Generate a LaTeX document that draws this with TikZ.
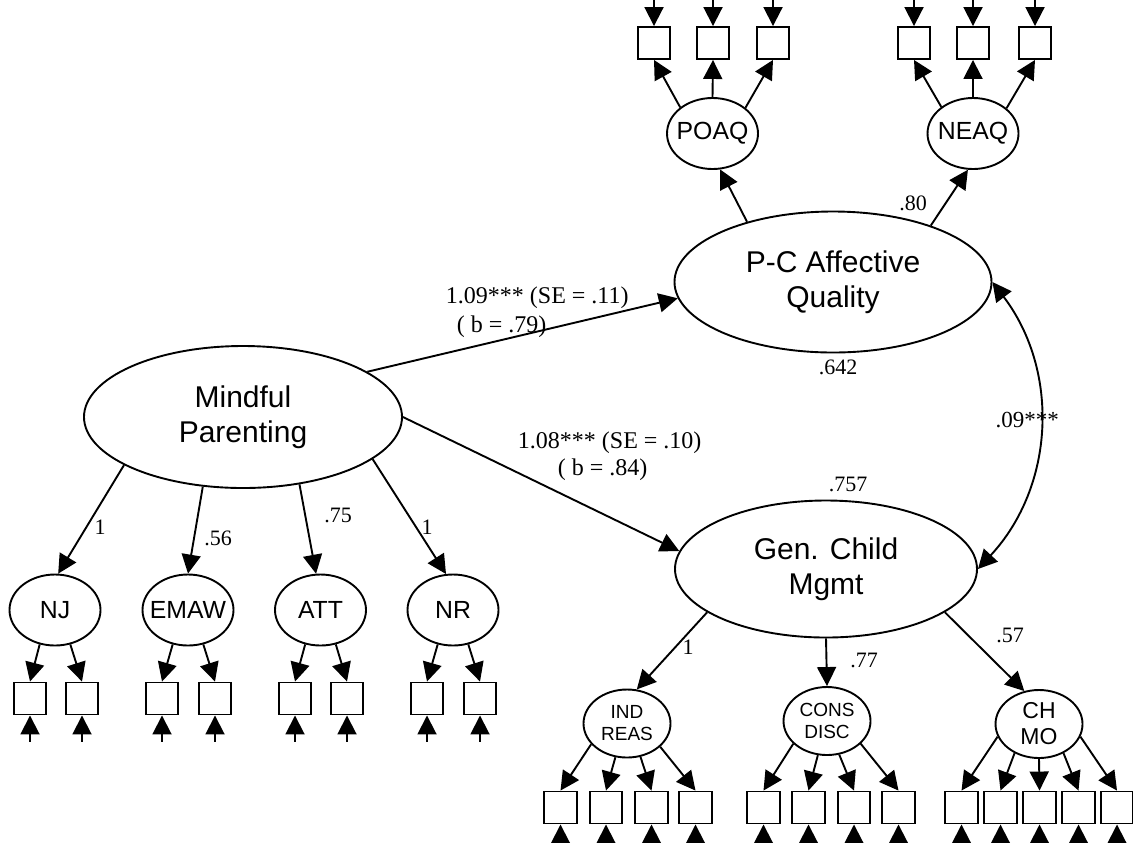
\documentclass[tikz,border=0pt]{standalone}
\usepackage{fontspec}
\setmainfont{Liberation Serif}
\setsansfont{Liberation Sans}
\usetikzlibrary{shapes.geometric,arrows.meta}

\begin{document}
\begin{tikzpicture}[x=0.5pt,y=-0.5pt,line width=0.95pt,>={Triangle[length=9.5pt,width=9.5pt]},
factor/.style={draw,ellipse,inner sep=0pt,align=center,font=\sffamily\fontsize{15}{17.5}\selectfont},
subscale/.style={draw,ellipse,inner sep=0pt,minimum width=45.5pt,minimum height=35.5pt,font=\sffamily\fontsize{12.4}{14}\selectfont},
facet/.style={draw,ellipse,inner sep=0pt,align=center,minimum width=43.5pt,minimum height=34pt},
obs/.style={draw,rectangle,inner sep=0pt,minimum width=16.25pt,minimum height=16pt},
num/.style={inner sep=0pt,font=\fontsize{11}{13}\selectfont},
coef/.style={inner sep=0pt,anchor=west,font=\fontsize{12}{14}\selectfont}]

\useasboundingbox (0,0) rectangle (1133,842);

%factors
\node[factor,minimum width=159pt,minimum height=71pt] (MP) at (243,417) {Mindful\\Parenting};
\node[factor,minimum width=158.5pt,minimum height=70.5pt] (PC) at (833,282) {P-C Affective\\Quality};
\node[factor,minimum width=151pt,minimum height=68.5pt] (GCM) at (826,569) {Gen. Child\\Mgmt};

%MP subscales
\node[subscale] (NJ) at (55,610) {NJ};
\node[subscale] (EMAW) at (188,610) {\makebox[0pt]{EMAW}};
\node[subscale] (ATT) at (320.5,610) {ATT};
\node[subscale] (NR) at (453,610) {NR};

\node[obs] (NJ1) at (30,698.5) {};
\node[obs] (NJ2) at (82,698.5) {};
\node[obs] (EMAW1) at (162,698.5) {};
\node[obs] (EMAW2) at (215,698.5) {};
\node[obs] (ATT1) at (295,698.5) {};
\node[obs] (ATT2) at (347,698.5) {};
\node[obs] (NR1) at (427,698.5) {};
\node[obs] (NR2) at (480,698.5) {};

\draw[->] (MP.202) -- (NJ.85);
\draw[->] (MP.240) -- (EMAW.90);
\draw[->] (MP.310) -- (ATT.97);
\draw[->] (MP.342) -- (NR.101);
\node[num] (lNJ) at (100,527) {1};
\node[num] (lEMAW) at (218,538) {.56};
\node[num] (lATT) at (338,515) {.75};
\node[num] (lNR) at (427,527) {1};

\draw[->] (NJ.246) -- (NJ1.north);
\draw[->] (NJ.294) -- (NJ2.north);
\draw[->] (EMAW.246) -- (EMAW1.north);
\draw[->] (EMAW.294) -- (EMAW2.north);
\draw[->] (ATT.246) -- (ATT1.north);
\draw[->] (ATT.294) -- (ATT2.north);
\draw[->] (NR.246) -- (NR1.north);
\draw[->] (NR.294) -- (NR2.north);

\draw[<-] (NJ1.south) -- ++(0,27);
\draw[<-] (NJ2.south) -- ++(0,27);
\draw[<-] (EMAW1.south) -- ++(0,27);
\draw[<-] (EMAW2.south) -- ++(0,27);
\draw[<-] (ATT1.south) -- ++(0,27);
\draw[<-] (ATT2.south) -- ++(0,27);
\draw[<-] (NR1.south) -- ++(0,27);
\draw[<-] (NR2.south) -- ++(0,27);

%PC subscales
\node[subscale] (POAQ) at (712.5,133.5) {\makebox[0pt]{POAQ}};
\node[subscale] (NEAQ) at (973,133.5) {\makebox[0pt]{NEAQ}};

\node[obs] (PO1) at (654,43) {};
\node[obs] (PO2) at (713,43) {};
\node[obs] (PO3) at (773,43) {};
\node[obs] (NE1) at (914,43) {};
\node[obs] (NE2) at (973,43) {};
\node[obs] (NE3) at (1035,43) {};

\draw[->] (PC.145) -- (POAQ.282);
\draw[->] (PC.30) -- (NEAQ.262);
\node[num] (lNEAQ) at (913,203) {.80};
\node[num] (rPC) at (838,367) {.642};

\draw[->] (POAQ.141) -- (PO1.south);
\draw[->] (POAQ.north) -- (PO2.south);
\draw[->] (POAQ.38) -- (PO3.south);
\draw[->] (NEAQ.140) -- (NE1.south);
\draw[->] (NEAQ.north) -- (NE2.south);
\draw[->] (NEAQ.37) -- (NE3.south);

\draw[<-] (PO1.north) -- ++(0,-26);
\draw[<-] (PO2.north) -- ++(0,-26);
\draw[<-] (PO3.north) -- ++(0,-26);
\draw[<-] (NE1.north) -- ++(0,-26);
\draw[<-] (NE2.north) -- ++(0,-26);
\draw[<-] (NE3.north) -- ++(0,-26);

%GCM subscales
\node[facet,font=\sffamily\fontsize{9.5}{11}\selectfont] (IR) at (627,723.5) {IND\\REAS};
\node[facet,font=\sffamily\fontsize{9.5}{11}\selectfont] (CD) at (827,721) {CONS\\DISC};
\node[facet,font=\sffamily\fontsize{11.5}{13}\selectfont] (CM) at (1039,724) {CH\\MO};
\node[num] (rGCM) at (848,484) {.757};

\draw[->] (GCM.200) -- (IR.74);
\draw[->] (GCM.south) -- (CD.north);
\draw[->] (GCM.340) -- (CM.114);
\node[num] (lIR) at (688,647) {1};
\node[num] (lCD) at (864,660) {.77};
\node[num] (lCM) at (1010,635) {.57};

\node[obs] (IR1) at (560.5,807.5) {};
\node[obs] (IR2) at (606,807.5) {};
\node[obs] (IR3) at (651.5,807.5) {};
\node[obs] (IR4) at (695.5,807.5) {};
\node[obs] (CD1) at (763.5,807.5) {};
\node[obs] (CD2) at (808.5,807.5) {};
\node[obs] (CD3) at (854,807.5) {};
\node[obs] (CD4) at (898.5,807.5) {};
\node[obs] (CM1) at (961.5,807.5) {};
\node[obs] (CM2) at (1000.5,807.5) {};
\node[obs] (CM3) at (1039.5,807.5) {};
\node[obs] (CM4) at (1078.5,807.5) {};
\node[obs] (CM5) at (1117,807.5) {};

\draw[->] (IR.210) -- (IR1.north);
\draw[->] (IR.251) -- (IR2.north);
\draw[->] (IR.292) -- (IR3.north);
\draw[->] (IR.325) -- (IR4.north);
\draw[->] (CD.214) -- (CD1.north);
\draw[->] (CD.255) -- (CD2.north);
\draw[->] (CD.290) -- (CD3.north);
\draw[->] (CD.326) -- (CD4.north);
\draw[->] (CM.197) -- (CM1.north);
\draw[->] (CM.230) -- (CM2.north);
\draw[->] (CM.south) -- (CM3.north);
\draw[->] (CM.310) -- (CM4.north);
\draw[->] (CM.343) -- (CM5.north);

\draw[<-] (IR1.south) -- ++(0,19);
\draw[<-] (IR2.south) -- ++(0,19);
\draw[<-] (IR3.south) -- ++(0,19);
\draw[<-] (IR4.south) -- ++(0,19);
\draw[<-] (CD1.south) -- ++(0,19);
\draw[<-] (CD2.south) -- ++(0,19);
\draw[<-] (CD3.south) -- ++(0,19);
\draw[<-] (CD4.south) -- ++(0,19);
\draw[<-] (CM1.south) -- ++(0,19);
\draw[<-] (CM2.south) -- ++(0,19);
\draw[<-] (CM3.south) -- ++(0,19);
\draw[<-] (CM4.south) -- ++(0,19);
\draw[<-] (CM5.south) -- ++(0,19);

%paths
\draw[->] (MP.20) -- (PC.186);
\draw[->] (MP.0) -- (GCM.173);
\node[coef] (c1a) at (445,298) {1.09*** (SE = .11)};
\node[coef] (c1b) at (456,327) {( b = .79)};
\node[coef] (c2a) at (517,443) {1.08*** (SE = .10)};
\node[coef] (c2b) at (557,470) {( b = .84)};

\draw[<->] (PC.east) to[bend left=40] node[num,pos=.5,xshift=-6pt,yshift=4pt,font=\fontsize{11.5}{13}\selectfont] (cov) {.09***} (GCM.east);

\end{tikzpicture}
\end{document}
